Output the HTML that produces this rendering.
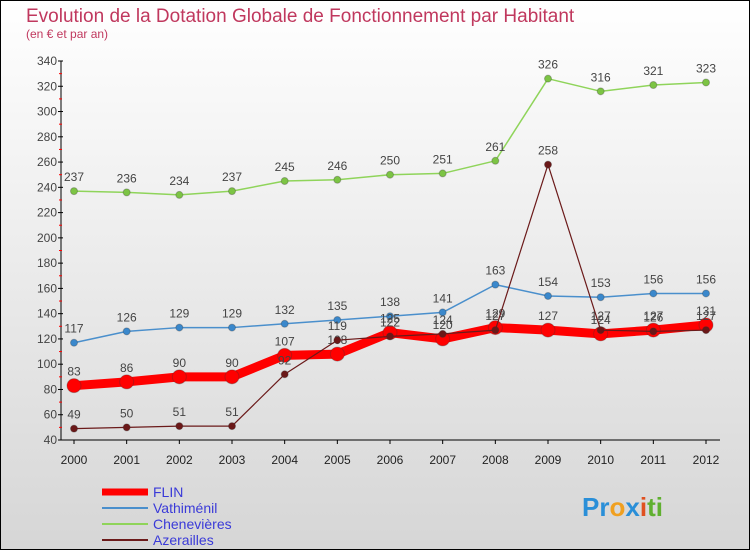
<!DOCTYPE html>
<html><head><meta charset="utf-8"><style>
body{margin:0;width:750px;height:550px;overflow:hidden;font-family:"Liberation Sans",sans-serif}
#wrap{position:absolute;left:0;top:0;width:748px;height:548px;border:1px solid #000;background:linear-gradient(#fff,#d6d6d6)}
</style></head><body>
<div id="wrap">
<svg id="chart" width="750" height="550" style="position:absolute;left:-1px;top:-1px">
<text x="26" y="22" font-size="19" fill="#c0385e">Evolution de la Dotation Globale de Fonctionnement par Habitant</text>
<text x="26" y="38" font-size="12" fill="#c0385e">(en € et par an)</text>
<g id="axes"></g><g id="series"></g>
<g>
<line x1="102" y1="492" x2="148" y2="492" stroke="#f00" stroke-width="7"/>
<text x="153" y="497" font-size="14" fill="#3a3ad8">FLIN</text>
<line x1="102" y1="508" x2="148" y2="508" stroke="#4a8fcc" stroke-width="2"/>
<text x="153" y="513" font-size="14" fill="#3a3ad8">Vathiménil</text>
<line x1="102" y1="524" x2="148" y2="524" stroke="#8fd45a" stroke-width="2"/>
<text x="153" y="529" font-size="14" fill="#3a3ad8">Chenevières</text>
<line x1="102" y1="540" x2="148" y2="540" stroke="#6b1a1a" stroke-width="2"/>
<text x="153" y="545" font-size="14" fill="#3a3ad8">Azerailles</text>
</g>
<text x="582" y="516" font-size="26" font-weight="bold"><tspan fill="#2a8fd8">Pr</tspan><tspan fill="#f0a020">o</tspan><tspan fill="#2a8fd8">x</tspan><tspan fill="#e05020">i</tspan><tspan fill="#60b030">ti</tspan></text>
</svg></div>
<script>
const years=[2000,2001,2002,2003,2004,2005,2006,2007,2008,2009,2010,2011,2012];
const yTicks=[40,60,80,100,120,140,160,180,200,220,240,260,280,300,320,340];
const flin=[83,86,90,90,107,108,125,120,129,127,124,127,131];
const vath=[117,126,129,129,132,135,138,141,163,154,153,156,156];
const chen=[237,236,234,237,245,246,250,251,261,326,316,321,323];
const azer=[49,50,51,51,92,119,122,124,127,258,127,126,127];
const NS="http://www.w3.org/2000/svg";
const X=i=>74+i*(706-74)/(years.length-1);
const Y=v=>440-(v-40)*(440-61)/300;
function mk(t,a,p){const e=document.createElementNS(NS,t);for(const k in a)e.setAttribute(k,a[k]);p.appendChild(e);return e;}
const ax=document.getElementById('axes');
const yl=mk('line',{x1:61,y1:Y(340),x2:61,y2:440,stroke:'#000'},ax);


const xl=mk('line',{x1:61,y1:440,x2:720,y2:440,stroke:'#000'},ax);


yTicks.forEach((v,i)=>{
 mk('line',{x1:58,y1:Y(v),x2:63,y2:Y(v),stroke:'#000'},ax);
 if(i<yTicks.length-1)mk('line',{x1:59,y1:Y(v+10),x2:62,y2:Y(v+10),stroke:'#f00'},ax);
 const t=mk('text',{x:57,y:Y(v)+4,'font-size':12,fill:'#444','text-anchor':'end'},ax);t.textContent=v;
 
 
});
years.forEach((y,i)=>{
 mk('line',{x1:X(i),y1:440,x2:X(i),y2:444,stroke:'#000'},ax);
 const t=mk('text',{x:X(i),y:464,'font-size':12,fill:'#222','text-anchor':'middle'},ax);t.textContent=y;
 
 
});
const sg=document.getElementById('series');
function series(data,color,w,r,name,dot){
 const g=mk('g',{},sg);
 
 
 const pl=mk('polyline',{points:data.map((v,i)=>X(i)+','+Y(v)).join(' '),fill:'none',stroke:color,'stroke-width':w,'stroke-linejoin':'round'},g);
 
 
 data.forEach((v,i)=>{
  const c=mk('circle',{cx:X(i),cy:Y(v),r:r,fill:dot,stroke:'#333','stroke-opacity':0.3},g);
  
  
  const t=mk('text',{x:X(i),y:Y(v)-10,'font-size':12,fill:'#444','text-anchor':'middle'},g);t.textContent=v;
  
  
 });
}
series(chen,'#8fd45a',1.5,3.5,'chenevieres','#7cc444');
series(vath,'#4a8fcc',1.5,3.5,'vathimenil','#3a88cc');
series(flin,'#f00',9,7,'flin','#f00');
series(azer,'#6b1a1a',1.2,3.5,'azerailles','#6b1818');
</script>
</body></html>
